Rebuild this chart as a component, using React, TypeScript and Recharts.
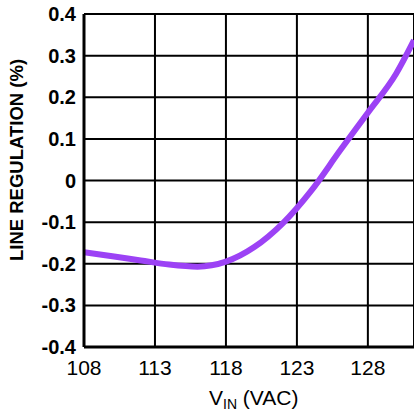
import { LineChart, Line, XAxis, YAxis, CartesianGrid } from 'recharts';

// input voltage (VAC)
const vin = [108, 110, 112, 114, 116, 118, 120, 122, 124, 126, 128, 130, 131.25];
// line regulation (%)
const regulation = [-0.172, -0.182, -0.192, -0.202, -0.207, -0.195, -0.16, -0.103, -0.025, 0.07, 0.163, 0.257, 0.337];

const xTicks = [108, 113, 118, 123, 128];
const yTicks = [-0.4, -0.3, -0.2, -0.1, 0, 0.1, 0.2, 0.3, 0.4];

const data = vin.map((v, i) => ({ vin: v, reg: regulation[i] }));

const font = '"Liberation Sans", Arial, sans-serif';

const YLabel = () => (
  <text
    x={23}
    y={160}
    transform="rotate(-90 23 160)"
    textAnchor="middle"
    fontFamily={font}
    fontWeight="bold"
    fontSize={18.5}
    fill="#000"
  >
    LINE REGULATION (%)
  </text>
);

const XLabel = () => (
  <text x={209} y={405} fontFamily={font} fontSize={21} fill="#000">
    V
    <tspan fontSize={14} dy={4}>IN</tspan>
    <tspan dy={-4}> (VAC)</tspan>
  </text>
);

export default function App() {
  return (
    <div style={{ position: 'fixed', left: 0, top: 0, width: 414, height: 411, overflow: 'hidden', background: '#fff' }}>
      <LineChart width={414} height={411} data={data} margin={{ top: 14, right: 0, left: 0, bottom: 0 }}>
        <CartesianGrid stroke="#000" strokeWidth={2} />
        <XAxis
          dataKey="vin"
          type="number"
          domain={[108, 131.25]}
          ticks={xTicks}
          allowDataOverflow
          height={64}
          tickSize={0}
          tickMargin={13}
          axisLine={{ stroke: '#000', strokeWidth: 3 }}
          tick={{ fill: '#000', fontSize: 21, fontFamily: font }}
          label={<XLabel />}
        />
        <YAxis
          type="number"
          domain={[-0.4, 0.4]}
          ticks={yTicks}
          width={84}
          tickSize={0}
          tickMargin={8}
          axisLine={{ stroke: '#000', strokeWidth: 3 }}
          tick={{ fill: '#000', fontSize: 20, fontWeight: 'bold', fontFamily: font }}
          tickFormatter={(v: number) => (v === 0 ? '0' : String(Math.round(v * 10) / 10))}
          label={<YLabel />}
        />
        <Line
          type="monotone"
          dataKey="reg"
          stroke="#9c42f5"
          strokeWidth={6}
          dot={false}
          isAnimationActive={false}
        />
      </LineChart>
    </div>
  );
}
